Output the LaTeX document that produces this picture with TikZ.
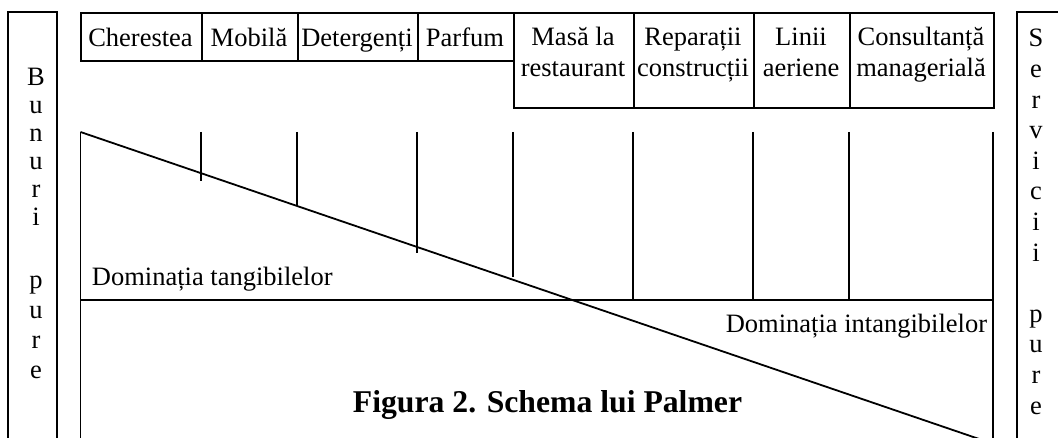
\documentclass[tikz,border=0pt]{standalone}
\usepackage{fontspec}
\setmainfont{Liberation Serif}
\begin{document}
\begin{tikzpicture}[x=1pt,y=-1pt,line width=1.8pt,
  box/.style={draw,rectangle,inner sep=0pt,anchor=north west},
  txt/.style={font=\fontsize{26.5}{31}\selectfont,inner sep=0pt,anchor=base},
  ttl/.style={font=\bfseries\fontsize{31.7}{36}\selectfont,inner sep=0pt,anchor=base},
  ln/.style={line width=1.8pt}]
\useasboundingbox (0,0) rectangle (1058,438);
\clip (0,0) rectangle (1058,438);
% side columns
\coordinate (lb1) at (8,450); \coordinate (lb2) at (8,12);
\coordinate (lb3) at (57,12); \coordinate (lb4) at (57,450);
\draw[ln] (lb1) -- (lb2) -- (lb3) -- (lb4);
\coordinate (rb1) at (1017,450); \coordinate (rb2) at (1017,12);
\coordinate (rb3) at (1070,12);
\draw[ln] (rb1) -- (rb2) -- (rb3);
\foreach \l/\y [count=\i] in {B/86,u/114,n/142,u/170,r/198,i/226,p/289,u/319,r/349,e/379}
  \node[txt] (L\i) at (36,\y) {\l};
\foreach \l [count=\i from 0] in {S,e,r,v,i,c,i,i,,p,u,r,e}
  \node[txt] (R\i) at (1036,{47+30.6*\i}) {\l};
% top row boxes
\node[box,minimum width=121pt,minimum height=48pt] (b1) at (80,12) {};
\node[box,minimum width=96pt,minimum height=48pt] (b2) at (201,12) {};
\node[box,minimum width=120pt,minimum height=48pt] (b3) at (297,12) {};
\node[box,minimum width=96pt,minimum height=48pt] (b4) at (417,12) {};
\node[box,minimum width=120pt,minimum height=95pt] (b5) at (513,12) {};
\node[box,minimum width=120pt,minimum height=95pt] (b6) at (633,12) {};
\node[box,minimum width=96pt,minimum height=95pt] (b7) at (753,12) {};
\node[box,minimum width=144pt,minimum height=95pt] (b8) at (849,12) {};
\node[txt] (t1) at (140.5,47) {Cherestea};
\node[txt] (t2) at (249,47) {Mobilă};
\node[txt] (t3) at (357,47) {Detergenți};
\node[txt] (t4) at (465,47) {Parfum};
\node[txt] (t5a) at (573,46) {Masă la};
\node[txt] (t5b) at (573,77) {restaurant};
\node[txt] (t6a) at (693,46) {Reparații};
\node[txt] (t6b) at (693,77) {construcții};
\node[txt] (t7a) at (801,46) {Linii};
\node[txt] (t7b) at (801,77) {aeriene};
\node[txt] (t8a) at (921,46) {Consultanță};
\node[txt] (t8b) at (921,77) {managerială};
% chart frame
\coordinate (tl) at (80.5,132); \coordinate (bl) at (80.5,450);
\coordinate (tr) at (993,132); \coordinate (br) at (993,450);
\coordinate (ml) at (80.5,300); \coordinate (mr) at (993,300);
\coordinate (dend) at (985,441);
\draw[ln] (tl) -- (bl);
\draw[ln] (tr) -- (br);
\draw[ln] (ml) -- (mr);
\draw[ln] (tl) -- (dend);
% ticks
\foreach \x/\y in {201/181,297/206,417/253,513/277,633/300,753/300,849/300}{
  \coordinate (k\x) at (\x,132);
  \coordinate (e\x) at (\x,\y);
  \draw[ln] (k\x) -- (e\x);
}
\node[txt,anchor=base west] (dt) at (91,286) {Dominația tangibilelor};
\node[txt,anchor=base east] (di) at (988,333) {Dominația intangibilelor};
\node[ttl] (title) at (547.5,412) {Figura 2. Schema lui Palmer};
\end{tikzpicture}
\end{document}
